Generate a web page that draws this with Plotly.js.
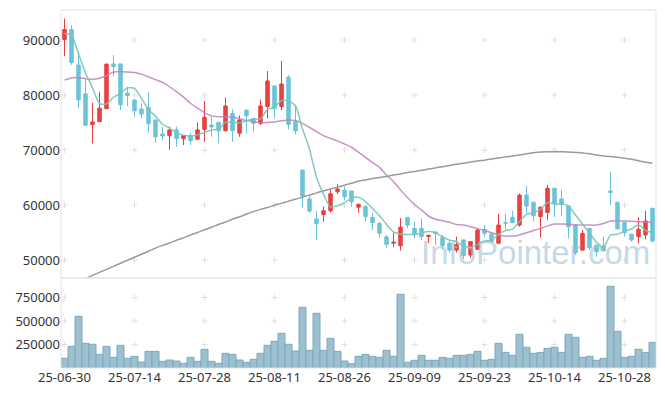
<!DOCTYPE html>
<html>
<head>
<meta charset="utf-8">
<script src="https://cdn.plot.ly/plotly-3.0.1.min.js"></script>
<style>html,body{margin:0;padding:0;background:#fff;}#chart{width:665px;height:396px;}</style>
</head>
<body>
<div id="chart"></div>
<script>
const dates = ["25-06-30","25-07-01","25-07-02","25-07-03","25-07-04","25-07-07","25-07-08","25-07-09","25-07-10","25-07-11",
"25-07-14","25-07-15","25-07-16","25-07-17","25-07-18","25-07-21","25-07-22","25-07-23","25-07-24","25-07-25",
"25-07-28","25-07-29","25-07-30","25-07-31","25-08-01","25-08-04","25-08-05","25-08-06","25-08-07","25-08-08",
"25-08-11","25-08-12","25-08-13","25-08-14","25-08-18","25-08-19","25-08-20","25-08-21","25-08-22","25-08-25",
"25-08-26","25-08-27","25-08-28","25-08-29","25-09-01","25-09-02","25-09-03","25-09-04","25-09-05","25-09-08",
"25-09-09","25-09-10","25-09-11","25-09-12","25-09-15","25-09-16","25-09-17","25-09-18","25-09-19","25-09-22",
"25-09-23","25-09-24","25-09-25","25-09-26","25-09-29","25-09-30","25-10-01","25-10-02","25-10-10","25-10-13",
"25-10-14","25-10-15","25-10-16","25-10-17","25-10-20","25-10-21","25-10-22","25-10-23","25-10-24","25-10-27",
"25-10-28","25-10-29","25-10-30","25-10-31","25-11-03"];

const open = [90100,91900,85450,80200,74600,75150,77500,85650,85650,80350,
79100,77450,77750,75450,72900,72600,73650,72050,72650,71950,
73750,74550,75050,73500,76650,73050,77250,75750,74850,77900,
81650,77900,83250,75150,66350,61100,57450,58250,58950,62400,
62700,62550,59600,59700,57750,56650,54200,53050,52600,57750,
55750,55750,54250,55100,54050,53050,51800,53650,50900,51950,
55550,54750,53050,56800,57750,56350,61800,60500,57900,58650,
63050,61100,59800,56350,51800,55750,52700,52550,62550,60500,
56850,54700,54250,54550,59400];
const high = [93900,92700,87750,82850,78600,80600,85750,87250,85700,81500,
79150,78500,80600,75500,74250,74250,74250,72700,73150,75000,
78900,75950,75100,79550,77400,76300,77300,75800,79200,84350,
81700,86200,83650,78200,66400,61950,58900,59700,62900,63800,
63350,62600,60300,60000,58500,56950,54550,54950,57600,57800,
56950,57600,54550,55150,54550,53650,54250,53700,53350,55750,
56350,54800,58350,58350,58950,62100,63450,60600,59700,63650,
63100,62700,59850,56400,55450,55800,52750,54250,66050,60550,
56900,54750,57750,58950,59450];
const low = [87100,85500,77600,74400,71200,75100,77500,83450,77250,78000,
75950,75750,73150,71350,71800,70000,70600,70900,70900,71900,
71500,72400,71200,73350,71500,72400,73050,73350,74550,75750,
75750,77250,73750,72850,59600,58600,53650,56950,58600,62000,
60800,59700,58600,57100,55450,54100,52250,52300,51700,55750,
53950,53650,53050,52750,51950,51350,51350,50200,50400,51900,
54250,53150,53000,55450,56700,56050,58500,57000,54100,57250,
57800,58000,53950,50900,51700,51800,50600,51500,60000,55600,
54250,53350,53050,53750,53200];
const close = [91900,85900,79100,74500,75100,77600,85600,85150,78250,79900,
77150,76550,74800,72400,72550,73650,72100,72650,71700,73650,
75950,74200,73500,78000,73500,75450,76250,74850,78000,82550,
77500,82000,74650,73500,61650,58900,56600,58950,62050,62900,
61500,60600,60100,57900,56800,54850,52850,53250,55950,56350,
54750,54250,54500,54850,52650,51800,52800,50800,53350,55450,
54850,53350,56350,56700,56800,61800,59800,58050,59600,63050,
60300,60100,56050,51350,54850,52250,51500,51700,62250,55650,
54950,53650,55600,57100,53450];
const volume = [103000,230000,550000,262000,252000,145000,230000,113000,241000,103000,
124000,64000,177000,177000,71000,85000,74000,50000,113000,71000,
199000,71000,50000,156000,145000,85000,60000,92000,156000,241000,
284000,369000,252000,181000,645000,188000,582000,188000,316000,177000,
74000,46000,124000,145000,124000,113000,188000,124000,784000,60000,
82000,135000,82000,82000,113000,103000,135000,135000,145000,177000,
82000,92000,262000,166000,135000,358000,220000,156000,166000,209000,
220000,166000,358000,326000,113000,124000,82000,103000,869000,390000,
113000,124000,199000,166000,273000];
const ma5 = [91200,90900,87500,84000,81300,78440,78380,79590,80340,81300,
81210,79400,77330,76160,74690,73990,73100,72670,72530,72750,
73210,73630,73800,75060,75030,74930,75340,75610,75610,77420,
77830,78980,78940,78040,73860,70140,65060,61920,59630,59880,
60400,61200,61430,60600,59380,58050,56500,55130,54740,54650,
54630,54910,55160,54940,54200,53610,53320,52580,52280,52840,
53450,53560,54670,55340,55610,57000,58290,58630,59210,60460,
60160,60220,59820,58170,56530,54920,53200,52330,54510,54670,
55210,55640,56420,55390,54950];
const ma20 = [82700,83100,83150,82950,82850,83050,83550,84200,84250,84200,
84100,83800,83300,82800,82300,81500,80600,79600,78500,77600,
76800,76200,76050,76050,75950,75700,75350,75150,74950,75000,
75100,75300,75450,75350,74850,74100,73350,72600,72100,71650,
71100,70500,69600,68650,67700,66850,65450,64250,62750,61350,
60100,59100,58000,57400,57150,56850,56450,56350,56050,55700,
55350,54950,54550,54350,54350,54550,54950,55350,55750,56200,
56550,56550,56500,56400,56350,56350,56350,56650,57100,57100,
57100,57050,56950,56900,56850];
const ma60 = [44950,45500,46050,46600,47200,47750,48300,48850,49400,49950,
50500,51050,51600,52150,52650,53100,53600,54050,54550,55000,
55500,55950,56450,56900,57400,57850,58350,58800,59200,59550,
59950,60300,60700,61050,61450,61800,62200,62550,62900,63250,
63600,63950,64350,64550,64800,65000,65200,65450,65650,65900,
66100,66300,66550,66750,66950,67200,67400,67600,67800,68000,
68150,68350,68550,68750,68900,69100,69300,69500,69650,69700,
69700,69700,69650,69550,69450,69300,69100,68900,68800,68700,
68500,68300,68050,67800,67600];

const xTicks = ["25-06-30","25-07-14","25-07-28","25-08-11","25-08-26","25-09-09","25-09-23","25-10-14","25-10-28"];
const priceTicks = [50000,60000,70000,80000,90000];
const volTicks = [250000,500000,750000];

const FONT = "Noto Sans, DejaVu Sans, sans-serif";
const split = 0.2514;
const CROSS = '#e0e0e0';

// faint "+" marks at the tick intersections, drawn below the data
const shapes = [];
function addCross(xv, yv, yref){
  shapes.push({type:'line',layer:'below',xref:'x',yref:yref,xsizemode:'pixel',xanchor:xv,x0:-3,x1:3,y0:yv,y1:yv,line:{color:CROSS,width:1}});
  shapes.push({type:'line',layer:'below',xref:'x',yref:yref,ysizemode:'pixel',yanchor:yv,y0:-3,y1:3,x0:xv,x1:xv,line:{color:CROSS,width:1}});
}
xTicks.forEach(d=>{
  priceTicks.forEach(v=>addCross(d,v,'y'));
  volTicks.forEach(v=>addCross(d,v,'y2'));
});
shapes.push({type:'rect',xref:'paper',yref:'paper',x0:0,x1:1,y0:split,y1:1,line:{color:'#e3e3e3',width:1},layer:'above'});
shapes.push({type:'rect',xref:'paper',yref:'paper',x0:0,x1:1,y0:0,y1:split,line:{color:'#e3e3e3',width:1},layer:'above'});

const traces = [
  {type:'bar',x:dates,y:volume,xaxis:'x',yaxis:'y2',
   marker:{color:'#9cc0d0',line:{color:'#7ea8bc',width:1}}},
  {type:'candlestick',x:dates,open:open,high:high,low:low,close:close,xaxis:'x',yaxis:'y',
   increasing:{line:{color:'#e93d3d',width:1},fillcolor:'#ea4141'},
   decreasing:{line:{color:'#69c2d8',width:1},fillcolor:'#6cc4d9'},whiskerwidth:0},
  {type:'scatter',mode:'lines',x:dates,y:ma60,xaxis:'x',yaxis:'y',line:{color:'#9a9a9a',width:1.5,shape:'spline',smoothing:0.6}},
  {type:'scatter',mode:'lines',x:dates,y:ma20,xaxis:'x',yaxis:'y',line:{color:'rgba(192,128,192,0.85)',width:1.5,shape:'spline',smoothing:0.6}},
  {type:'scatter',mode:'lines',x:dates,y:ma5,xaxis:'x',yaxis:'y',line:{color:'rgba(120,196,180,0.9)',width:1.5,shape:'spline',smoothing:0.6}}
];

const layout = {
  width:665,height:396,
  margin:{l:61,r:9,t:10,b:28,pad:0},
  paper_bgcolor:'#fff',plot_bgcolor:'#fff',
  showlegend:false,
  bargap:0,
  font:{family:FONT,size:13,color:'#333'},
  xaxis:{type:'category',categoryorder:'array',categoryarray:dates,range:[-0.5,84.5],anchor:'y2',
    tickmode:'array',tickvals:xTicks,ticktext:xTicks,showgrid:false,zeroline:false,showline:false,ticks:'',
    tickfont:{family:FONT,size:13,color:'#333'},rangeslider:{visible:false},fixedrange:true},
  yaxis:{domain:[split,1],range:[46727,95455],tickmode:'array',tickvals:priceTicks,tickformat:'d',
    showgrid:false,zeroline:false,showline:false,ticks:'',tickfont:{family:FONT,size:13,color:'#333'},fixedrange:true},
  yaxis2:{domain:[0,split],range:[0,957000],tickmode:'array',tickvals:volTicks,tickformat:'d',anchor:'x',
    showgrid:false,zeroline:false,showline:false,ticks:'',tickfont:{family:FONT,size:13,color:'#333'},fixedrange:true},
  shapes:shapes,
  annotations:[
    {text:'InfoPointer.com',xref:'paper',yref:'paper',x:0.993,y:split+0.015,xanchor:'right',yanchor:'bottom',showarrow:false,
     font:{family:'Liberation Sans, Arial, sans-serif',size:33,color:'rgba(160,192,212,0.6)'}}
  ]
};

Plotly.newPlot('chart',traces,layout,{displayModeBar:false,staticPlot:true});
</script>
</body>
</html>
